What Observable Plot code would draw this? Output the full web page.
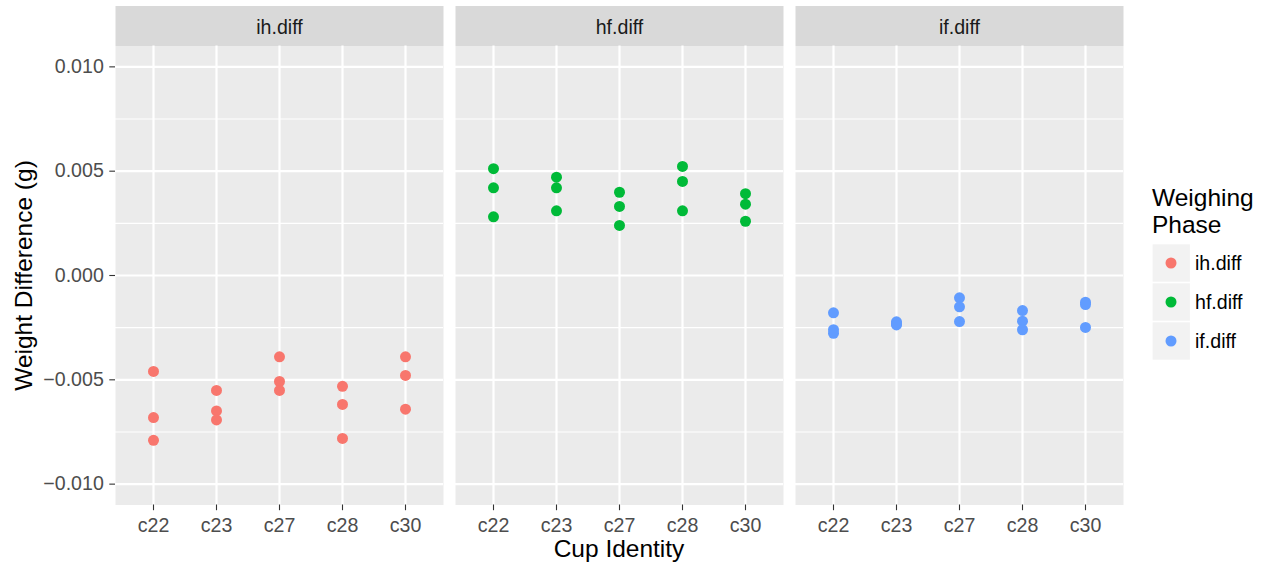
<!DOCTYPE html>
<html><head><meta charset="utf-8">
<script src="https://cdn.jsdelivr.net/npm/d3@7"></script>
<script src="https://cdn.jsdelivr.net/npm/@observablehq/plot@0.6"></script>
<style>
body{margin:0;background:#fff;font-family:"Liberation Sans",Arial,Helvetica,sans-serif;}
#wrap{position:relative;width:1268px;height:569px;overflow:hidden;}
#wrap svg{position:absolute;left:0;top:0;}
</style></head><body><div id="wrap"></div>
<script>
const cups = ["c22","c23","c27","c28","c30"];
const phases = ["ih.diff","hf.diff","if.diff"];
const phaseColors = ["#F8766D","#00BA38","#619CFF"];
// values per cup (three weighings each)
const ihDiff = [
  [-0.00460,-0.00681,-0.00790],
  [-0.00551,-0.00649,-0.00692],
  [-0.00390,-0.00508,-0.00551],
  [-0.00531,-0.00618,-0.00781],
  [-0.00390,-0.00479,-0.00641]
];
const hfDiff = [
  [0.00512,0.00420,0.00281],
  [0.00471,0.00420,0.00310],
  [0.00399,0.00331,0.00240],
  [0.00523,0.00451,0.00310],
  [0.00392,0.00342,0.00260]
];
const ifDiff = [
  [-0.00179,-0.00260,-0.00277],
  [-0.00222,-0.00230,-0.00237],
  [-0.00107,-0.00150,-0.00221],
  [-0.00168,-0.00219,-0.00260],
  [-0.00128,-0.00139,-0.00249]
];
const majorTicks = [-0.010,-0.005,0,0.005,0.010];
const minorTicks = [-0.0075,-0.0025,0.0025,0.0075];
const yLimits = [-0.011,0.011];
const xTitle = "Cup Identity";
const yTitle = "Weight Difference (g)";
const legendTitle = ["Weighing","Phase"];

const series = [ihDiff, hfDiff, ifDiff];
const data = [];
phases.forEach((p,i)=>cups.forEach((c,j)=>series[i][j].forEach(v=>data.push({phase:p,cup:c,value:v}))));

const fmt = d3.format(".3f");
const chart = Plot.plot({
  width:1268, height:569,
  marginLeft:115, marginRight:145, marginTop:45.5, marginBottom:64.5,
  style:{fontFamily:'"Liberation Sans",Arial,Helvetica,sans-serif', background:"white", overflow:"visible"},
  fx:{domain:phases, paddingInner:12/340, paddingOuter:0, axis:null, label:null},
  x:{type:"point", domain:cups, padding:0.6, label:null},
  y:{domain:yLimits, label:null},
  color:{domain:phases, range:phaseColors},
  marks:[
    Plot.frame({fill:"#ebebeb"}),
    Plot.frame({fill:"#d9d9d9", insetTop:-40, insetBottom:459}),
    Plot.gridY(minorTicks,{stroke:"white", strokeOpacity:1, strokeWidth:1.1}),
    Plot.gridY(majorTicks,{stroke:"white", strokeOpacity:1, strokeWidth:2.2}),
    Plot.gridX({stroke:"white", strokeOpacity:1, strokeWidth:2.2}),
    Plot.dot(data,{x:"cup", y:"value", fx:"phase", fill:"phase", r:5.5, stroke:null}),
    Plot.text(phases,{fx:d=>d, text:d=>d, frameAnchor:"top", lineAnchor:"middle", dy:-18.5, fontSize:19.6, fill:"#1a1a1a"}),
    Plot.axisY(majorTicks,{tickSize:5.7, tickPadding:6, tickFormat:d=>fmt(d), fill:"#4d4d4d", stroke:"#333333", strokeWidth:1.1, fontSize:19.6, label:null}),
    Plot.axisX({tickSize:5.7, tickPadding:7.8, fill:"#4d4d4d", stroke:"#333333", strokeWidth:1.1, fontSize:19.6, label:null})
  ]
});
document.getElementById("wrap").appendChild(chart);

// overlay: axis titles and legend
const ov = d3.select("#wrap").append("svg").attr("width",1268).attr("height",569)
  .style("font-family",'"Liberation Sans",Arial,Helvetica,sans-serif').style("pointer-events","none");
ov.append("text").attr("transform","translate(31.5,275.5) rotate(-90)").attr("text-anchor","middle")
  .attr("font-size",24.5).attr("fill","#000").text(yTitle);
ov.append("text").attr("x",619).attr("y",557).attr("text-anchor","middle")
  .attr("font-size",24.5).attr("fill","#000").text(xTitle);
legendTitle.forEach((t,i)=>ov.append("text").attr("x",1152).attr("y",206+i*27.3).attr("font-size",24.5).attr("fill","#000").text(t));
phases.forEach((p,i)=>{
  const cy = 263 + i*39;
  ov.append("rect").attr("x",1152).attr("y",cy-19.25).attr("width",38.5).attr("height",38.5)
    .attr("fill","#f2f2f2").attr("stroke","white").attr("stroke-width",1.2);
  ov.append("circle").attr("cx",1171).attr("cy",cy).attr("r",5.5).attr("fill",phaseColors[i]);
  ov.append("text").attr("x",1195).attr("y",cy+7).attr("font-size",19.6).attr("fill","#000").text(p);
});
</script>
</body></html>
